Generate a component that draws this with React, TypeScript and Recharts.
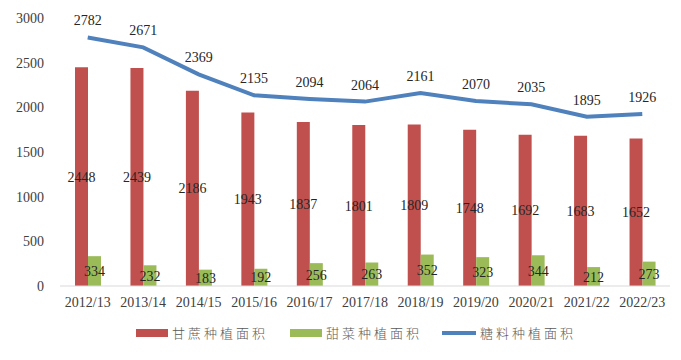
import React from "react";
import {
  ComposedChart,
  Bar,
  Line,
  XAxis,
  YAxis,
  Legend,
  LabelList,
} from "recharts";

const seasons = [
  "2012/13", "2013/14", "2014/15", "2015/16", "2016/17", "2017/18",
  "2018/19", "2019/20", "2020/21", "2021/22", "2022/23",
];
const caneArea = [2448, 2439, 2186, 1943, 1837, 1801, 1809, 1748, 1692, 1683, 1652];
const beetArea = [334, 232, 183, 192, 256, 263, 352, 323, 344, 212, 273];
const sugarArea = [2782, 2671, 2369, 2135, 2094, 2064, 2161, 2070, 2035, 1895, 1926];
const yTicks = [0, 500, 1000, 1500, 2000, 2500, 3000];

const data = seasons.map((s, i) => ({
  season: s,
  cane: caneArea[i],
  beet: beetArea[i],
  sugar: sugarArea[i],
}));

const RED = "#C0504D";
const GREEN = "#9BBB59";
const BLUE = "#4F81BD";
const numFont = "Liberation Serif, Times New Roman, serif";
const cjkFont = "'Noto Sans CJK SC', sans-serif";

const legendItems = [
  { name: "甘蔗种植面积", color: RED, kind: "bar" },
  { name: "甜菜种植面积", color: GREEN, kind: "bar" },
  { name: "糖料种植面积", color: BLUE, kind: "line" },
];

function LegendBox() {
  return (
    <div style={{ display: "flex", justifyContent: "center", gap: 20, marginLeft: 40, marginTop: 7 }}>
      {legendItems.map((it) => (
        <div key={it.name} style={{ display: "flex", alignItems: "center" }}>
          <svg width={34} height={10} style={{ marginRight: 4 }}>
            {it.kind === "bar" ? (
              <rect x={2} y={1} width={32} height={8} fill={it.color} />
            ) : (
              <line x1={0} y1={5} x2={34} y2={5} stroke={it.color} strokeWidth={4} strokeLinecap="round" />
            )}
          </svg>
          <span
            style={{
              fontFamily: cjkFont,
              fontSize: 13,
              color: "#595959",
              letterSpacing: "3px",
              fontWeight: 300,
            }}
          >
            {it.name}
          </span>
        </div>
      ))}
    </div>
  );
}

// axis ticks drawn by hand so the serif font sticks
function XTick(props: any) {
  const { x, y, payload } = props;
  return (
    <text x={x} y={y + 11} textAnchor="middle" fill="#404040" fontSize={14} fontFamily={numFont}>
      {payload.value}
    </text>
  );
}

function YTick(props: any) {
  const { x, y, payload } = props;
  return (
    <text x={x} y={y + 5} textAnchor="end" fill="#404040" fontSize={14} fontFamily={numFont}>
      {payload.value}
    </text>
  );
}

export default function App() {
  return (
    <div style={{ position: "fixed", left: 0, top: 0, background: "#fff" }}>
      <ComposedChart
        width={681}
        height={360}
        data={data}
        margin={{ top: 18, right: 11, left: 0, bottom: 14 }}
        barGap={0}
      >
        <XAxis
          dataKey="season"
          axisLine={{ stroke: "#D9D9D9" }}
          tickLine={false}
          tick={<XTick />}
          tickMargin={4}
          interval={0}
        />
        <YAxis
          width={60}
          domain={[0, 3000]}
          ticks={yTicks}
          axisLine={false}
          tickLine={false}
          tickSize={0}
          tickMargin={16}
          tick={<YTick />}
        />
        <Legend verticalAlign="bottom" height={30} content={<LegendBox />} />
        <Bar dataKey="cane" name="甘蔗种植面积" fill={RED} barSize={13} isAnimationActive={false}>
          <LabelList
            dataKey="cane"
            position="center"
            fill="#262626"
            fontSize={14}
            fontFamily={numFont}
          />
        </Bar>
        <Bar dataKey="beet" name="甜菜种植面积" fill={GREEN} barSize={13} isAnimationActive={false}>
          <LabelList
            dataKey="beet"
            position="center"
            fill="#262626"
            fontSize={14}
            fontFamily={numFont}
          />
        </Bar>
        <Line
          dataKey="sugar"
          name="糖料种植面积"
          stroke={BLUE}
          strokeWidth={4}
          dot={false}
          type="linear"
          isAnimationActive={false}
        >
          <LabelList
            dataKey="sugar"
            position="top"
            offset={12}
            fill="#262626"
            fontSize={14}
            fontFamily={numFont}
          />
        </Line>
      </ComposedChart>
    </div>
  );
}
